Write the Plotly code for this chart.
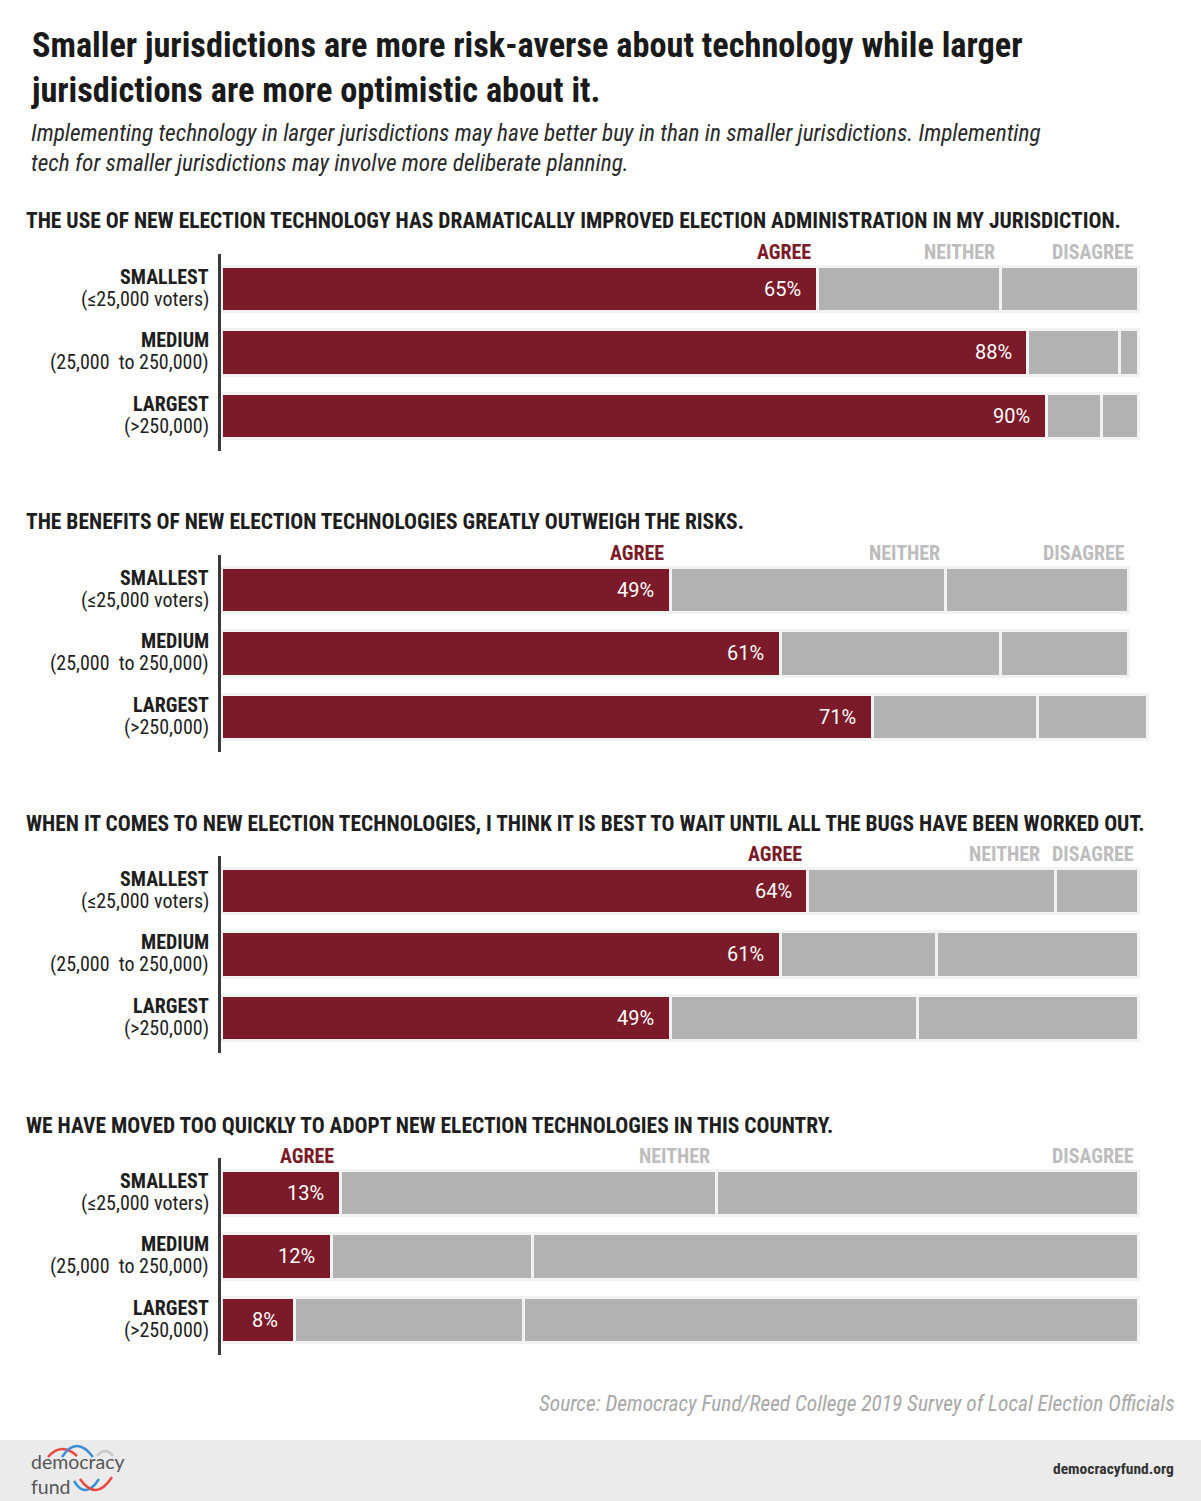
import plotly.graph_objects as go

# ---------------- data ----------------
categories = ["SMALLEST", "MEDIUM", "LARGEST"]
category_notes = ["(≤25,000 voters)", "(25,000  to 250,000)", "(>250,000)"]
responses = ["AGREE", "NEITHER", "DISAGREE"]

questions = [
    "THE USE OF NEW ELECTION TECHNOLOGY HAS DRAMATICALLY IMPROVED ELECTION ADMINISTRATION IN MY JURISDICTION.",
    "THE BENEFITS OF NEW ELECTION TECHNOLOGIES GREATLY OUTWEIGH THE RISKS.",
    "WHEN IT COMES TO NEW ELECTION TECHNOLOGIES, I THINK IT IS BEST TO WAIT UNTIL ALL THE BUGS HAVE BEEN WORKED OUT.",
    "WE HAVE MOVED TOO QUICKLY TO ADOPT NEW ELECTION TECHNOLOGIES IN THIS COUNTRY.",
]

agree_q1 = [65, 88, 90]
neither_q1 = [20, 10, 6]
disagree_q1 = [15, 2, 4]

agree_q2 = [49, 61, 71]
neither_q2 = [30, 24, 18]
disagree_q2 = [20, 14, 12]

agree_q3 = [64, 61, 49]
neither_q3 = [27, 17, 27]
disagree_q3 = [9, 22, 24]

agree_q4 = [13, 12, 8]
neither_q4 = [41, 22, 25]
disagree_q4 = [46, 66, 67]

panels = [
    (agree_q1, neither_q1, disagree_q1),
    (agree_q2, neither_q2, disagree_q2),
    (agree_q3, neither_q3, disagree_q3),
    (agree_q4, neither_q4, disagree_q4),
]

title = ("Smaller jurisdictions are more risk-averse about technology while larger<br>"
         "jurisdictions are more optimistic about it.")
subtitle = ("Implementing technology in larger jurisdictions may have better buy in than in smaller jurisdictions. Implementing<br>"
            "tech for smaller jurisdictions may involve more deliberate planning.")
source = "Source: Democracy Fund/Reed College 2019 Survey of Local Election Officials"

# ---------------- styling / layout ----------------
W, H = 1201, 1501
RED = "#7b1a28"
GRAY = "#b2b2b2"
HEAD_GRAY = "#bdbdbd"
TXT = "#1e1e1e"
COND = "Roboto Condensed, Liberation Sans Narrow, DejaVu Sans Condensed, Roboto, sans-serif"
PCT_FONT = "Roboto, Liberation Sans, sans-serif"

X0_PX = 221.0          # pixel of 0%
PX_PER_PCT = 9.17
XMAX = 102
PITCH = 63.5
first_center_px = [289, 590, 891, 1193]
header_xshift = [[-4, -3, -2], [-4, -3, -2], [-4, -13, -2], [-4, -4, -2]]


def px(x):
    return x / W


def py(y):
    return 1 - y / H


fig = go.Figure()
annotations = []
shapes = []
ypos = [0, 1, 2]

for i, (ag, ne, di) in enumerate(panels):
    k = "" if i == 0 else str(i + 1)
    xa, ya = "x" + k, "y" + k
    colors = [RED, GRAY, GRAY]
    for name, vals, col in zip(responses, (ag, ne, di), colors):
        fig.add_trace(go.Bar(
            x=vals, y=ypos, orientation="h", name=name, width=0.71,
            marker=dict(color=col, line=dict(color="#f2f2f2", width=3)),
            xaxis=xa, yaxis=ya, showlegend=False, hoverinfo="x",
        ))
    c = first_center_px[i]
    top = c - 0.55 * PITCH
    bot = c + 2.55 * PITCH
    fig.layout["xaxis" + k] = dict(
        domain=[px(X0_PX), px(X0_PX + XMAX * PX_PER_PCT)], range=[0, XMAX],
        anchor=ya, visible=False, fixedrange=True)
    fig.layout["yaxis" + k] = dict(
        domain=[py(bot), py(top)], range=[2.55, -0.55], anchor=xa,
        tickvals=ypos, ticktext=["", "", ""], showgrid=False, zeroline=False,
        showline=True, linecolor="#3a3a3a", linewidth=3, ticks="",
        fixedrange=True)

    # category labels (two lines, tight spacing)
    for yy, cat, note in zip(ypos, categories, category_notes):
        annotations.append(dict(
            x=px(211), y=yy, xref="paper", yref=ya, text=f"<b>{cat}</b>",
            showarrow=False, xanchor="right", yanchor="middle", yshift=12,
            font=dict(family=COND, size=20, color=TXT)))
        annotations.append(dict(
            x=px(211), y=yy, xref="paper", yref=ya, text=note,
            showarrow=False, xanchor="right", yanchor="middle", yshift=-10,
            font=dict(family=COND, size=20, color=TXT)))

    # percent labels in agree bars
    for yy, v in zip(ypos, ag):
        annotations.append(dict(
            x=v, y=yy, xref=xa, yref=ya, text=f"{v}%", showarrow=False,
            xanchor="right", yanchor="middle", xshift=-14,
            font=dict(family=PCT_FONT, size=20, color="white")))

    # response headers above first bar
    cum = 0
    for j, (name, vals) in enumerate(zip(responses, (ag, ne, di))):
        cum += vals[0]
        annotations.append(dict(
            x=cum, y=py(c - 37), xref=xa, yref="paper", text=f"<b>{name}</b>",
            showarrow=False, xanchor="right", yanchor="middle",
            xshift=header_xshift[i][j],
            font=dict(family=COND, size=20, color=RED if j == 0 else HEAD_GRAY)))

    # question heading
    annotations.append(dict(
        x=px(24), y=py(c - 68), xref="paper", yref="paper",
        text=f"<b>{questions[i]}</b>", showarrow=False,
        xanchor="left", yanchor="middle",
        font=dict(family=COND, size=21.5, color=TXT)))

# title & subtitle
annotations.append(dict(
    x=px(29), y=py(67), xref="paper", yref="paper", text=f"<b>{title}</b>",
    showarrow=False, xanchor="left", yanchor="middle", align="left",
    font=dict(family=COND, size=34.3, color="#1a1a1a")))
annotations.append(dict(
    x=px(29), y=py(148), xref="paper", yref="paper", text=f"<i>{subtitle}</i>",
    showarrow=False, xanchor="left", yanchor="middle", align="left",
    font=dict(family=COND, size=23.3, color="#2a2a2a")))

# source
annotations.append(dict(
    x=px(1177), y=py(1403), xref="paper", yref="paper", text=f"<i>{source}</i>",
    showarrow=False, xanchor="right", yanchor="middle",
    font=dict(family=COND, size=21.4, color="#a8a8a8")))

# footer
shapes.append(dict(type="rect", xref="paper", yref="paper",
                   x0=0, x1=1, y0=0, y1=py(1440), fillcolor="#ebebeb",
                   line=dict(width=0), layer="below"))
annotations.append(dict(
    x=px(1176), y=py(1469), xref="paper", yref="paper",
    text="<b>democracyfund.org</b>", showarrow=False, xanchor="right",
    yanchor="middle", font=dict(family=COND, size=15.5, color="#333333")))
annotations.append(dict(
    x=px(29), y=py(1474), xref="paper", yref="paper", text="democracy<br>fund",
    showarrow=False, xanchor="left", yanchor="middle", align="left",
    font=dict(family="Lato, Open Sans, sans-serif", size=19.5, color="#555658")))


def arc(p0, peak, p1, color):
    cx = 2 * peak[0] - 0.5 * (p0[0] + p1[0])
    cy = 2 * peak[1] - 0.5 * (p0[1] + p1[1])
    path = (f"M {px(p0[0])},{py(p0[1])} Q {px(cx)},{py(cy)} {px(p1[0])},{py(p1[1])}")
    return dict(type="path", xref="paper", yref="paper", path=path,
                line=dict(color=color, width=2.5))


shapes.append(arc((48, 1457), (62, 1449), (77, 1456), "#e8493f"))
shapes.append(arc((62, 1457), (77, 1446), (93, 1457), "#3a8fd6"))
shapes.append(arc((97, 1456), (105, 1451), (113, 1456), "#c9c9c9"))
shapes.append(arc((74, 1481), (86, 1490), (99, 1479), "#3a8fd6"))
shapes.append(arc((80, 1479), (96, 1490), (112, 1477), "#e8493f"))

fig.update_layout(
    width=W, height=H, margin=dict(l=0, r=0, t=0, b=0),
    paper_bgcolor="white", plot_bgcolor="rgba(0,0,0,0)",
    barmode="stack", bargap=0.29, showlegend=False,
    annotations=annotations, shapes=shapes,
)

fig.write_html("out.html")
